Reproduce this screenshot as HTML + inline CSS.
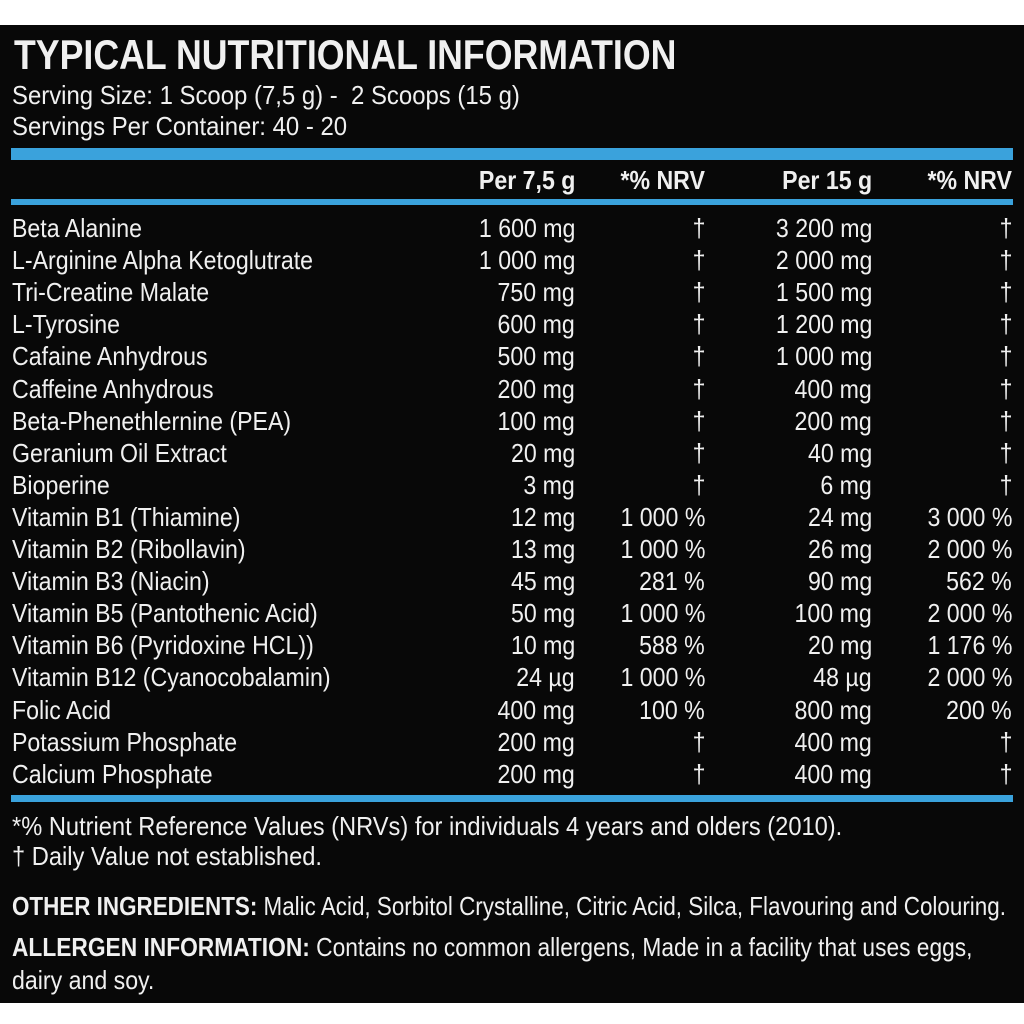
<!DOCTYPE html>
<html><head><meta charset="utf-8"><style>
body{margin:0;width:1024px;height:1024px;background:#fff;overflow:hidden;position:relative;font-family:"Liberation Sans",sans-serif;color:#f0f0f0}
#bg{position:absolute;left:0;top:25px;width:1024px;height:978px;background:#080808}
.t{position:absolute;white-space:nowrap;font-size:26px;line-height:32px;height:32px;transform:scaleX(0.89);transform-origin:left}
.r{text-align:right;transform-origin:right}
.bar{position:absolute;left:11px;width:1002px;background:#3aa2dc}
b{font-weight:bold}
</style></head><body>
<div id="bg"></div>
<div class="t" style="left:14px;top:33px;font-size:42px;line-height:44px;height:44px;font-weight:bold;transform:scaleX(0.85)">TYPICAL NUTRITIONAL INFORMATION</div>
<div class="t" style="left:12px;top:79px;transform:scaleX(0.92)">Serving Size: 1 Scoop (7,5 g) - &nbsp;2 Scoops (15 g)</div>
<div class="t" style="left:12px;top:110px;transform:scaleX(0.92)">Servings Per Container: 40 - 20</div>
<div class="bar" style="top:148px;height:12px"></div>
<div class="bar" style="top:199px;height:6px"></div>
<div class="bar" style="top:795px;height:7px"></div>
<div id="rows"></div>
<div class="t" style="left:12px;top:810px;transform:scaleX(0.91)">*% Nutrient Reference Values (NRVs) for individuals 4 years and olders (2010).</div>
<div class="t" style="left:12px;top:840px;transform:scaleX(0.91)">† Daily Value not established.</div>
<div class="t" style="left:12px;top:890px;transform:scaleX(0.862)"><b>OTHER INGREDIENTS:</b> Malic Acid, Sorbitol Crystalline, Citric Acid, Silca, Flavouring and Colouring.</div>
<div class="t" style="left:12px;top:931px;transform:scaleX(0.875)"><b>ALLERGEN INFORMATION:</b> Contains no common allergens, Made in a facility that uses eggs,</div>
<div class="t" style="left:12px;top:964px">dairy and soy.</div>
<script>
var rows=[["Beta Alanine","1 600 mg","†","3 200 mg","†"],["L-Arginine Alpha Ketoglutrate","1 000 mg","†","2 000 mg","†"],["Tri-Creatine Malate","750 mg","†","1 500 mg","†"],["L-Tyrosine","600 mg","†","1 200 mg","†"],["Cafaine Anhydrous","500 mg","†","1 000 mg","†"],["Caffeine Anhydrous","200 mg","†","400 mg","†"],["Beta-Phenethlernine (PEA)","100 mg","†","200 mg","†"],["Geranium Oil Extract","20 mg","†","40 mg","†"],["Bioperine","3 mg","†","6 mg","†"],["Vitamin B1 (Thiamine)","12 mg","1 000 %","24 mg","3 000 %"],["Vitamin B2 (Ribollavin)","13 mg","1 000 %","26 mg","2 000 %"],["Vitamin B3 (Niacin)","45 mg","281 %","90 mg","562 %"],["Vitamin B5 (Pantothenic Acid)","50 mg","1 000 %","100 mg","2 000 %"],["Vitamin B6 (Pyridoxine HCL))","10 mg","588 %","20 mg","1 176 %"],["Vitamin B12 (Cyanocobalamin)","24 µg","1 000 %","48 µg","2 000 %"],["Folic Acid","400 mg","100 %","800 mg","200 %"],["Potassium Phosphate","200 mg","†","400 mg","†"],["Calcium Phosphate","200 mg","†","400 mg","†"]];
var R=[575,705,872,1012],h="";
function cell(txt,right,top,extra){return '<div class="t r" style="right:'+(1024-right)+'px;top:'+top+'px;'+(extra||'')+'">'+txt+'</div>';}
var hd=["Per 7,5 g","*% NRV","Per 15 g","*% NRV"];
for(var i=0;i<4;i++)h+=cell(hd[i],R[i],164,"font-weight:bold");
rows.forEach(function(r,k){var top=212+k*32.1;h+='<div class="t" style="left:12px;top:'+top+'px">'+r[0]+'</div>';for(var i=0;i<4;i++)h+=cell(r[i+1],R[i],top);});
document.getElementById("rows").innerHTML=h;
</script>
</body></html>
